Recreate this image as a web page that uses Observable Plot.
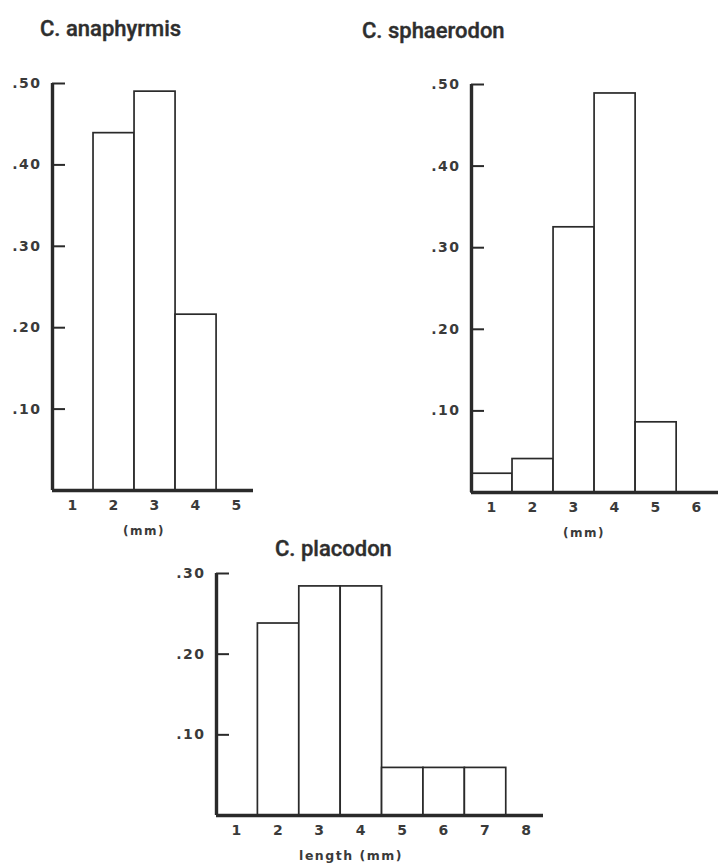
<!DOCTYPE html>
<html>
<head>
<meta charset="utf-8">
<script src="https://cdn.jsdelivr.net/npm/d3@7"></script>
<script src="https://cdn.jsdelivr.net/npm/@observablehq/plot@0.6"></script>
<style>
  html, body { margin: 0; padding: 0; background: #fff; }
  #root { position: relative; width: 718px; height: 866px; overflow: hidden; background: #fff; }
  .title { position: absolute; font-family: Roboto, "Liberation Sans", sans-serif; font-weight: 500; font-size: 22px; line-height: 1; color: #2e2e2e; white-space: nowrap; -webkit-text-stroke: 0.4px #2e2e2e; }
  .panel { position: absolute; }
</style>
</head>
<body>
<div id="root"></div>
<script>
// ---- data ----
const titles = ["C. anaphyrmis", "C. sphaerodon", "C. placodon"];

const anaBins = [2, 3, 4];
const anaValues = [0.439, 0.490, 0.216];
const anaXTicks = [1, 2, 3, 4, 5];
const anaYTicks = [0.10, 0.20, 0.30, 0.40, 0.50];

const sphBins = [1, 2, 3, 4, 5];
const sphValues = [0.023, 0.041, 0.325, 0.489, 0.086];
const sphXTicks = [1, 2, 3, 4, 5, 6];
const sphYTicks = [0.10, 0.20, 0.30, 0.40, 0.50];

const plaBins = [2, 3, 4, 5, 6, 7];
const plaValues = [0.238, 0.284, 0.284, 0.059, 0.059, 0.059];
const plaXTicks = [1, 2, 3, 4, 5, 6, 7, 8];
const plaYTicks = [0.10, 0.20, 0.30];

const xLabels = ["(mm)", "(mm)", "length (mm)"];

// ---- drawing ----
const ink = "#2a2a2a";
const fmtY = d => d3.format(".2f")(d).replace(/^0/, "");

function panel({bins, values, xTicks, yTicks, xDomain, yMax, label, labelDx,
                width, height, marginLeft, marginTop, marginRight, marginBottom}) {
  const data = bins.map((b, i) => ({bin: b, value: values[i]}));
  return Plot.plot({
    width, height, marginLeft, marginTop, marginRight, marginBottom,
    style: {fontFamily: "'DejaVu Sans', sans-serif", fontWeight: "bold", fontSize: "14px",
            letterSpacing: "1.5px", color: "#3a3a3a", background: "transparent"},
    x: {domain: xDomain},
    y: {domain: [0, yMax]},
    marks: [
      Plot.rectY(data, {x1: d => d.bin - 0.5, x2: d => d.bin + 0.5, y: "value",
                        fill: "white", stroke: ink, strokeWidth: 1.7}),
      Plot.ruleY([0], {stroke: ink, strokeWidth: 3.4}),
      Plot.ruleX([xDomain[0]], {y1: 0, y2: yMax, stroke: ink, strokeWidth: 3.4}),
      Plot.axisY(yTicks, {tickSize: -13, tickPadding: 24, tickFormat: fmtY, fontSize: 14,
                          stroke: ink, strokeWidth: 2, label: null}),
      Plot.axisX(xTicks, {tickSize: 0, tickPadding: 10, tickFormat: d => String(d), fontSize: 14, label: null}),
      Plot.text([label], {frameAnchor: "bottom", dx: labelDx, dy: 44, fill: "#3a3a3a",
                          fontSize: label.length > 5 ? 12.5 : 12})
    ]
  });
}

const root = document.getElementById("root");

function place(node, left, top) {
  const d = document.createElement("div");
  d.className = "panel";
  d.style.left = left + "px";
  d.style.top = top + "px";
  d.appendChild(node);
  root.appendChild(d);
}

function title(text, left, top) {
  const d = document.createElement("div");
  d.className = "title";
  d.textContent = text;
  d.style.left = left + "px";
  d.style.top = top + "px";
  root.appendChild(d);
}

place(panel({bins: anaBins, values: anaValues, xTicks: anaXTicks, yTicks: anaYTicks,
             xDomain: [0.5, 5.4], yMax: 0.5, label: xLabels[0], labelDx: -9,
             width: 275, height: 475, marginLeft: 52, marginTop: 13, marginRight: 22, marginBottom: 55}), 0, 70);

place(panel({bins: sphBins, values: sphValues, xTicks: sphXTicks, yTicks: sphYTicks,
             xDomain: [0.5, 6.52], yMax: 0.5, label: xLabels[1], labelDx: -11,
             width: 318, height: 477, marginLeft: 71, marginTop: 14, marginRight: 0, marginBottom: 55}), 400, 70);

place(panel({bins: plaBins, values: plaValues, xTicks: plaXTicks, yTicks: plaYTicks,
             xDomain: [0.5, 8.4], yMax: 0.3, label: xLabels[2], labelDx: -29,
             width: 398, height: 306, marginLeft: 66, marginTop: 13, marginRight: 5, marginBottom: 51}), 150, 560);

title(titles[0], 40, 18);
title(titles[1], 362, 20);
title(titles[2], 275, 538);
</script>
</body>
</html>
